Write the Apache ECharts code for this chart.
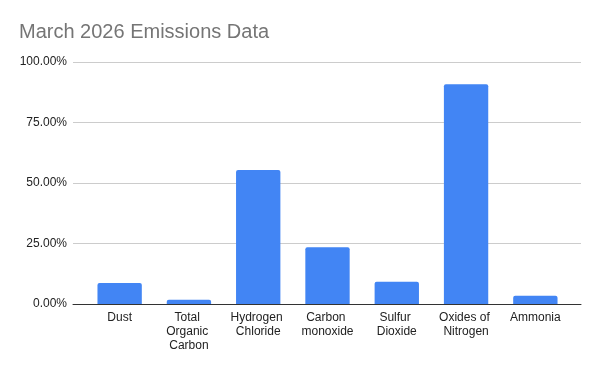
<!DOCTYPE html>
<html>
<head>
<meta charset="utf-8">
<script src="https://cdn.jsdelivr.net/npm/echarts@6/dist/echarts.min.js"></script>
<style>
  html, body { margin: 0; padding: 0; background: #fff; }
  #chart { width: 600px; height: 371px; }
</style>
</head>
<body>
<div id="chart"></div>
<script>
let categories = ['Dust', 'Total Organic Carbon', 'Hydrogen Chloride', 'Carbon monoxide',
  'Sulfur Dioxide', 'Oxides of Nitrogen', 'Ammonia'];
let emissions = [8.7, 1.8, 55.4, 23.5, 9.2, 90.8, 3.4];
let yTicks = [0, 25, 50, 75, 100];

let chart = echarts.init(document.getElementById('chart'));
let font = 'Arial, "Liberation Sans", sans-serif';

chart.setOption({
  animation: false,
  textStyle: { fontFamily: font },
  title: {
    text: 'March 2026 Emissions Data',
    left: 19,
    top: 22,
    padding: 0,
    textStyle: { fontSize: 20, fontWeight: 'normal', color: '#757575', fontFamily: font }
  },
  grid: [
    // wide grid: gridlines + baseline
    { left: 73, right: 19, top: 62, bottom: 67 },
    // bars
    { left: 85, right: 30, top: 62, bottom: 67 }
  ],
  xAxis: [
    {
      gridIndex: 0, type: 'category', data: [''],
      axisLine: { lineStyle: { color: '#333', width: 1 } },
      axisTick: { show: false }, axisLabel: { show: false }
    },
    {
      gridIndex: 1, type: 'category', data: categories,
      axisLine: { show: false }, axisTick: { show: false },
      axisLabel: {
        interval: 0, margin: 7, color: '#222', fontSize: 12, lineHeight: 14,
        width: 64, overflow: 'break', fontFamily: font
      }
    }
  ],
  yAxis: [
    {
      gridIndex: 0, type: 'value', min: 0, max: 100, interval: 25,
      axisLine: { show: false }, axisTick: { show: false },
      splitLine: { lineStyle: { color: '#cccccc' } },
      axisLabel: {
        color: '#222', fontSize: 12, margin: 6, fontFamily: font,
        formatter: function (v) { return yTicks.indexOf(v) >= 0 ? v.toFixed(2) + '%' : ''; }
      }
    },
    {
      gridIndex: 1, type: 'value', min: 0, max: 100, interval: 25,
      axisLine: { show: false }, axisTick: { show: false },
      splitLine: { show: false }, axisLabel: { show: false }
    }
  ],
  series: [{
    type: 'bar',
    xAxisIndex: 1,
    yAxisIndex: 1,
    data: emissions,
    barCategoryGap: '36%',
    itemStyle: { color: '#4285F4', borderRadius: [2, 2, 0, 0] },
    z: 1
  }]
});
</script>
</body>
</html>
